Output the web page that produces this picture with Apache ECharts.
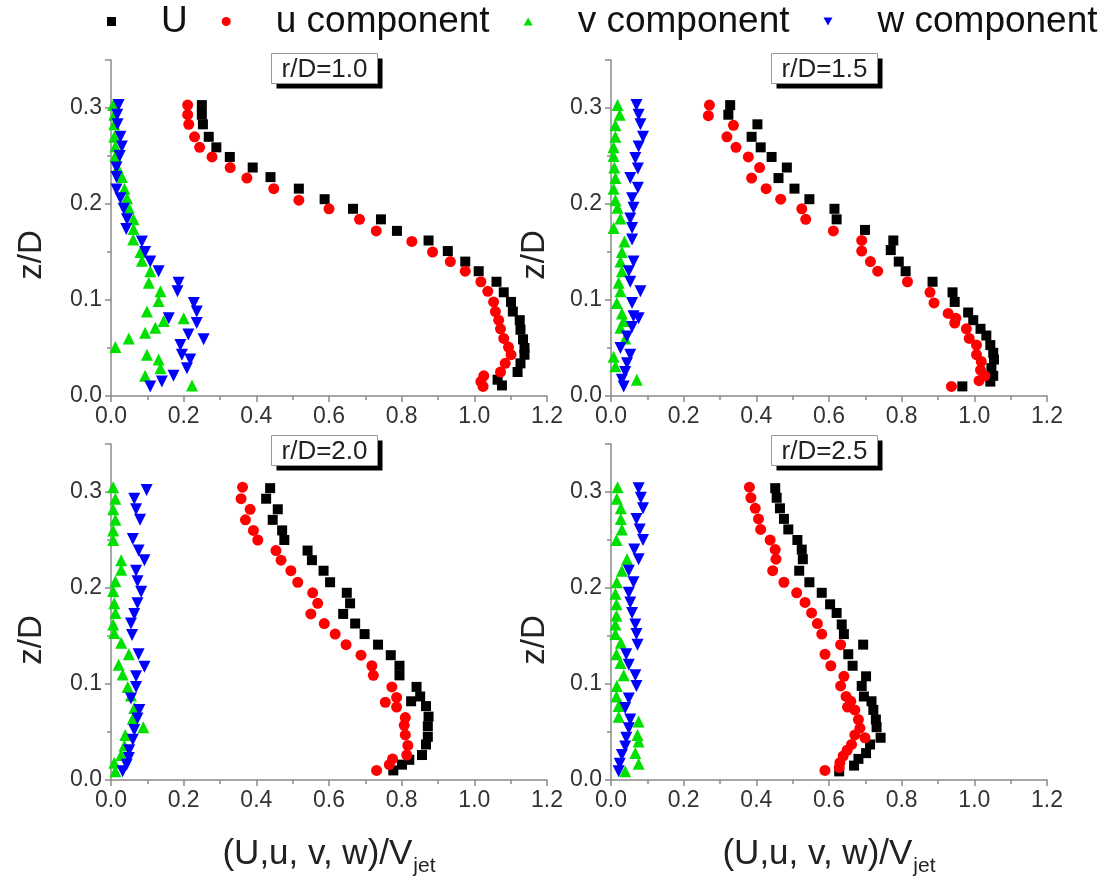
<!DOCTYPE html>
<html><head><meta charset="utf-8">
<script src="https://cdn.jsdelivr.net/npm/echarts@6/dist/echarts.min.js"></script>
<style>html,body{margin:0;padding:0;background:#fff}#c{width:1104px;height:888px}</style>
</head><body><div id="c"></div>
<script>
// ---- categories / labels ----
const seriesNames = ['U', 'u component', 'v component', 'w component'];
const panelLabels = ['r/D=1.0', 'r/D=1.5', 'r/D=2.0', 'r/D=2.5'];
const yAxisTitle = 'z/D';
const xTickValues = [0, 0.2, 0.4, 0.6, 0.8, 1.0, 1.2];
const yTickValues = [0, 0.1, 0.2, 0.3];

// ---- data: [value, z/D] ----
// r/D = 1.0
const U_10 = [[0.250,0.303],[0.250,0.293],[0.253,0.283],[0.269,0.270],[0.290,0.259],[0.327,0.249],[0.390,0.238],[0.439,0.228],[0.517,0.216],[0.588,0.205],[0.666,0.195],[0.743,0.184],[0.787,0.172],[0.874,0.162],[0.927,0.151],[0.975,0.140],[1.012,0.130],[1.061,0.119],[1.081,0.108],[1.101,0.098],[1.106,0.088],[1.125,0.079],[1.127,0.069],[1.134,0.059],[1.138,0.050],[1.138,0.043],[1.127,0.034],[1.119,0.025],[1.064,0.017],[1.076,0.011]];
const u_10 = [[0.211,0.303],[0.211,0.293],[0.214,0.283],[0.230,0.270],[0.244,0.259],[0.278,0.249],[0.328,0.238],[0.374,0.227],[0.448,0.216],[0.517,0.204],[0.600,0.195],[0.684,0.184],[0.730,0.172],[0.828,0.161],[0.885,0.150],[0.934,0.140],[0.975,0.130],[1.018,0.119],[1.037,0.109],[1.053,0.098],[1.058,0.088],[1.067,0.079],[1.072,0.070],[1.081,0.060],[1.094,0.051],[1.101,0.043],[1.085,0.034],[1.072,0.025],[1.026,0.021],[1.018,0.015],[1.024,0.010]];
const v_10 = [[0.006,0.303],[0.009,0.293],[0.009,0.283],[0.009,0.270],[0.012,0.260],[0.012,0.250],[0.018,0.238],[0.030,0.228],[0.037,0.216],[0.044,0.206],[0.049,0.196],[0.062,0.184],[0.062,0.174],[0.061,0.163],[0.081,0.150],[0.085,0.141],[0.108,0.130],[0.104,0.118],[0.136,0.109],[0.131,0.099],[0.099,0.088],[0.145,0.078],[0.122,0.071],[0.094,0.066],[0.200,0.081],[0.049,0.060],[0.012,0.051],[0.099,0.043],[0.131,0.038],[0.136,0.029],[0.094,0.021],[0.223,0.011]];
const w_10 = [[0.021,0.303],[0.017,0.293],[0.018,0.283],[0.026,0.270],[0.030,0.260],[0.024,0.250],[0.015,0.238],[0.015,0.228],[0.015,0.215],[0.026,0.206],[0.035,0.195],[0.044,0.184],[0.042,0.174],[0.085,0.161],[0.094,0.150],[0.108,0.140],[0.131,0.130],[0.186,0.118],[0.183,0.109],[0.228,0.097],[0.236,0.088],[0.159,0.081],[0.236,0.076],[0.213,0.064],[0.255,0.059],[0.191,0.053],[0.195,0.043],[0.218,0.038],[0.209,0.029],[0.172,0.021],[0.140,0.015],[0.108,0.010]];
// r/D = 1.5
const U_15 = [[0.328,0.303],[0.323,0.293],[0.403,0.283],[0.387,0.270],[0.412,0.259],[0.442,0.249],[0.484,0.238],[0.461,0.227],[0.505,0.216],[0.546,0.205],[0.615,0.195],[0.621,0.184],[0.699,0.173],[0.777,0.162],[0.770,0.152],[0.792,0.140],[0.811,0.130],[0.885,0.119],[0.940,0.108],[0.946,0.098],[0.983,0.087],[0.997,0.079],[1.017,0.070],[1.033,0.063],[1.044,0.053],[1.052,0.045],[1.054,0.038],[1.047,0.029],[1.052,0.021],[1.044,0.015],[0.967,0.010]];
const u_15 = [[0.271,0.303],[0.268,0.292],[0.337,0.282],[0.319,0.270],[0.344,0.259],[0.378,0.249],[0.409,0.238],[0.387,0.227],[0.427,0.216],[0.467,0.205],[0.525,0.195],[0.536,0.184],[0.612,0.172],[0.690,0.162],[0.690,0.151],[0.714,0.140],[0.734,0.130],[0.816,0.119],[0.878,0.108],[0.889,0.097],[0.928,0.086],[0.949,0.081],[0.946,0.076],[0.978,0.070],[0.986,0.060],[1.006,0.053],[1.006,0.043],[1.019,0.036],[1.017,0.027],[1.029,0.021],[1.013,0.016],[0.937,0.010]];
const v_15 = [[0.018,0.303],[0.024,0.293],[0.012,0.282],[0.012,0.270],[0.007,0.259],[0.007,0.250],[0.009,0.238],[0.012,0.227],[0.007,0.216],[0.012,0.204],[0.018,0.196],[0.026,0.185],[0.007,0.175],[0.037,0.161],[0.030,0.150],[0.026,0.140],[0.030,0.130],[0.021,0.118],[0.026,0.109],[0.016,0.097],[0.030,0.086],[0.035,0.078],[0.026,0.071],[0.039,0.060],[0.007,0.041],[0.012,0.031],[0.071,0.017]];
const w_15 = [[0.070,0.303],[0.076,0.293],[0.081,0.283],[0.088,0.270],[0.076,0.260],[0.067,0.248],[0.074,0.237],[0.053,0.227],[0.074,0.217],[0.058,0.206],[0.062,0.196],[0.053,0.185],[0.058,0.175],[0.058,0.163],[0.062,0.140],[0.049,0.130],[0.053,0.119],[0.081,0.109],[0.058,0.097],[0.062,0.083],[0.076,0.081],[0.058,0.072],[0.044,0.062],[0.026,0.050],[0.053,0.043],[0.044,0.034],[0.039,0.025],[0.030,0.017],[0.035,0.010]];
// r/D = 2.0
const U_20 = [[0.438,0.304],[0.427,0.293],[0.459,0.282],[0.445,0.271],[0.471,0.260],[0.477,0.250],[0.541,0.239],[0.553,0.229],[0.585,0.218],[0.603,0.206],[0.649,0.195],[0.658,0.184],[0.639,0.173],[0.672,0.163],[0.698,0.152],[0.735,0.141],[0.770,0.130],[0.794,0.119],[0.794,0.109],[0.841,0.097],[0.851,0.087],[0.826,0.082],[0.867,0.077],[0.874,0.066],[0.872,0.056],[0.872,0.045],[0.867,0.037],[0.856,0.026],[0.821,0.021],[0.801,0.016],[0.777,0.010]];
const u_20 = [[0.362,0.305],[0.358,0.293],[0.383,0.282],[0.370,0.271],[0.392,0.260],[0.404,0.250],[0.454,0.239],[0.468,0.229],[0.495,0.218],[0.514,0.206],[0.555,0.195],[0.569,0.184],[0.550,0.173],[0.587,0.163],[0.617,0.152],[0.647,0.141],[0.688,0.130],[0.718,0.119],[0.722,0.109],[0.773,0.097],[0.786,0.086],[0.755,0.081],[0.786,0.076],[0.810,0.065],[0.807,0.057],[0.810,0.047],[0.817,0.036],[0.814,0.026],[0.775,0.022],[0.766,0.016],[0.731,0.010]];
const v_20 = [[0.006,0.305],[0.012,0.293],[0.006,0.282],[0.012,0.271],[0.006,0.260],[0.006,0.250],[0.028,0.229],[0.028,0.219],[0.012,0.207],[0.006,0.197],[0.009,0.184],[0.012,0.174],[0.006,0.162],[0.009,0.153],[0.028,0.143],[0.049,0.131],[0.021,0.120],[0.032,0.110],[0.046,0.097],[0.055,0.088],[0.064,0.075],[0.060,0.064],[0.089,0.055],[0.039,0.047],[0.037,0.036],[0.028,0.026],[0.009,0.018],[0.012,0.009]];
const w_20 = [[0.098,0.302],[0.064,0.293],[0.069,0.282],[0.080,0.271],[0.060,0.251],[0.076,0.239],[0.092,0.229],[0.069,0.218],[0.073,0.207],[0.083,0.196],[0.073,0.184],[0.064,0.173],[0.055,0.163],[0.058,0.151],[0.076,0.131],[0.092,0.118],[0.069,0.108],[0.069,0.097],[0.055,0.085],[0.078,0.073],[0.073,0.064],[0.064,0.052],[0.060,0.042],[0.050,0.031],[0.049,0.023],[0.043,0.016],[0.032,0.009]];
// r/D = 2.5
const U_25 = [[0.452,0.304],[0.456,0.294],[0.465,0.283],[0.476,0.272],[0.488,0.261],[0.513,0.250],[0.525,0.240],[0.528,0.230],[0.518,0.218],[0.546,0.206],[0.580,0.195],[0.603,0.183],[0.621,0.174],[0.635,0.162],[0.641,0.152],[0.694,0.141],[0.653,0.131],[0.665,0.119],[0.702,0.108],[0.690,0.098],[0.696,0.087],[0.717,0.082],[0.722,0.073],[0.729,0.063],[0.731,0.055],[0.742,0.044],[0.713,0.037],[0.702,0.028],[0.681,0.022],[0.669,0.015],[0.628,0.009]];
const u_25 = [[0.381,0.305],[0.385,0.294],[0.397,0.283],[0.406,0.272],[0.412,0.261],[0.438,0.250],[0.452,0.240],[0.454,0.230],[0.445,0.218],[0.476,0.206],[0.511,0.195],[0.534,0.185],[0.552,0.174],[0.568,0.163],[0.580,0.152],[0.632,0.141],[0.589,0.131],[0.605,0.119],[0.641,0.108],[0.632,0.098],[0.647,0.087],[0.660,0.082],[0.651,0.076],[0.671,0.073],[0.681,0.063],[0.685,0.054],[0.671,0.047],[0.699,0.044],[0.662,0.037],[0.650,0.031],[0.639,0.025],[0.630,0.018],[0.628,0.013],[0.589,0.010]];
const v_25 = [[0.018,0.305],[0.016,0.293],[0.027,0.283],[0.027,0.272],[0.030,0.261],[0.015,0.250],[0.044,0.230],[0.030,0.218],[0.016,0.206],[0.012,0.194],[0.015,0.183],[0.015,0.171],[0.012,0.162],[0.012,0.152],[0.027,0.143],[0.015,0.131],[0.026,0.122],[0.035,0.109],[0.016,0.098],[0.015,0.087],[0.021,0.077],[0.021,0.066],[0.076,0.061],[0.073,0.047],[0.076,0.040],[0.067,0.028],[0.076,0.017],[0.039,0.009]];
const w_25 = [[0.076,0.304],[0.082,0.294],[0.088,0.283],[0.070,0.272],[0.079,0.261],[0.088,0.250],[0.064,0.240],[0.076,0.230],[0.049,0.218],[0.062,0.206],[0.049,0.195],[0.053,0.185],[0.058,0.174],[0.067,0.162],[0.070,0.152],[0.073,0.141],[0.042,0.131],[0.049,0.120],[0.067,0.109],[0.070,0.098],[0.049,0.085],[0.039,0.075],[0.053,0.063],[0.049,0.054],[0.042,0.044],[0.039,0.035],[0.030,0.026],[0.024,0.017],[0.021,0.009]];

const panelData = [
  [U_10, u_10, v_10, w_10],
  [U_15, u_15, v_15, w_15],
  [U_20, u_20, v_20, w_20],
  [U_25, u_25, v_25, w_25]
];

// ---- styling ----
const FONT = 'Liberation Sans, Arial, sans-serif';
const markerStyles = [
  { symbol: 'rect', size: 10, color: '#000000', rotate: 0, icon: 'rect' },
  { symbol: 'circle', size: 11, color: '#ff0000', rotate: 0, icon: 'circle' },
  { symbol: 'triangle', size: 12, color: '#00e000', rotate: 0, icon: 'path://M5,0 L10,9 L0,9 Z' },
  { symbol: 'triangle', size: 12, color: '#0000ff', rotate: 180, icon: 'path://M0,0 L10,0 L5,9 Z' }
];
const grids = [
  { left: 111, top: 60, width: 436, height: 336 },
  { left: 611, top: 60, width: 436, height: 336 },
  { left: 111, top: 444, width: 436, height: 336 },
  { left: 611, top: 444, width: 436, height: 336 }
];
const axisColor = '#8a8a8a';

const xAxes = grids.map((g, i) => ({
  type: 'value', gridIndex: i, min: 0, max: 1.2, interval: 0.2,
  axisLine: { show: true, onZero: false, lineStyle: { color: axisColor, width: 1.5 } },
  axisTick: { show: true, inside: false, length: 6, lineStyle: { color: axisColor, width: 1.5 } },
  minorTick: { show: true, splitNumber: 2, length: 4, lineStyle: { color: axisColor, width: 1.5 } },
  splitLine: { show: false },
  axisLabel: { fontSize: 23, color: '#333', margin: 9, fontFamily: FONT,
    formatter: v => xTickValues.some(t => Math.abs(t - v) < 1e-6) ? v.toFixed(1) : '' },
  name: i >= 2 ? '{a|(U,u, v, w)/V}{b|jet}' : '',
  nameLocation: 'middle', nameGap: 52,
  nameTextStyle: { rich: {
    a: { fontSize: 35, color: '#222', fontFamily: FONT },
    b: { fontSize: 21, color: '#222', fontFamily: FONT, padding: [24, 0, 0, 1] }
  } }
}));
const yAxes = grids.map((g, i) => ({
  type: 'value', gridIndex: i, min: 0, max: 0.35, interval: 0.1,
  axisLine: { show: true, onZero: false, lineStyle: { color: axisColor, width: 1.5 } },
  axisTick: { show: true, inside: false, length: 6, lineStyle: { color: axisColor, width: 1.5 } },
  minorTick: { show: true, splitNumber: 2, length: 4, lineStyle: { color: axisColor, width: 1.5 } },
  splitLine: { show: false },
  axisLabel: { fontSize: 23, color: '#333', margin: 9, fontFamily: FONT,
    formatter: v => yTickValues.some(t => Math.abs(t - v) < 1e-6) ? v.toFixed(1) : '' }
}));

const series = [];
panelData.forEach((arrs, p) => {
  arrs.forEach((data, k) => {
    const m = markerStyles[k];
    series.push({
      type: 'scatter', name: seriesNames[k], xAxisIndex: p, yAxisIndex: p,
      data: data, symbol: m.symbol, symbolSize: m.size, symbolRotate: m.rotate,
      itemStyle: { color: m.color, opacity: 1 },
      emphasis: { disabled: true }, z: 2 + k
    });
  });
});

const graphics = [];
const boxPos = [[271, 53], [771, 53], [271, 435], [771, 435]];
panelLabels.forEach((t, i) => {
  graphics.push({
    type: 'group', left: boxPos[i][0], top: boxPos[i][1],
    children: [
      { type: 'rect', shape: { x: 5, y: 5, width: 106, height: 30 }, style: { fill: '#000' } },
      { type: 'rect', shape: { x: 0, y: 0, width: 106, height: 30 }, style: { fill: '#fff', stroke: '#999', lineWidth: 1 } },
      { type: 'text', x: 53, y: 16, style: { text: t, fontSize: 26, fill: '#222', fontFamily: FONT, align: 'center', verticalAlign: 'middle' } }
    ]
  });
});
const zPos = [[32, 255], [535, 255], [32, 640], [535, 640]];
zPos.forEach(p => {
  graphics.push({
    type: 'text', x: p[0], y: p[1], rotation: Math.PI / 2,
    style: { text: yAxisTitle, fontSize: 33, fill: '#222', fontFamily: FONT, align: 'center', verticalAlign: 'middle' }
  });
});

const chart = echarts.init(document.getElementById('c'), null, { renderer: 'canvas' });
chart.setOption({
  backgroundColor: '#ffffff',
  animation: false,
  legend: {
    data: seriesNames.map((n, k) => ({ name: n, icon: markerStyles[k].icon, itemStyle: { color: markerStyles[k].color } })),
    top: 3, left: 107, width: 1000, padding: 0,
    itemWidth: 9, itemHeight: 9, itemGap: 34,
    textStyle: { fontSize: 37, color: '#111', fontFamily: FONT, padding: [0, 0, 0, 40] },
    selectedMode: false
  },
  grid: grids.map(g => Object.assign({ outerBoundsMode: 'none', containLabel: false }, g)),
  xAxis: xAxes,
  yAxis: yAxes,
  series: series,
  graphic: graphics
});
</script>
</body></html>
